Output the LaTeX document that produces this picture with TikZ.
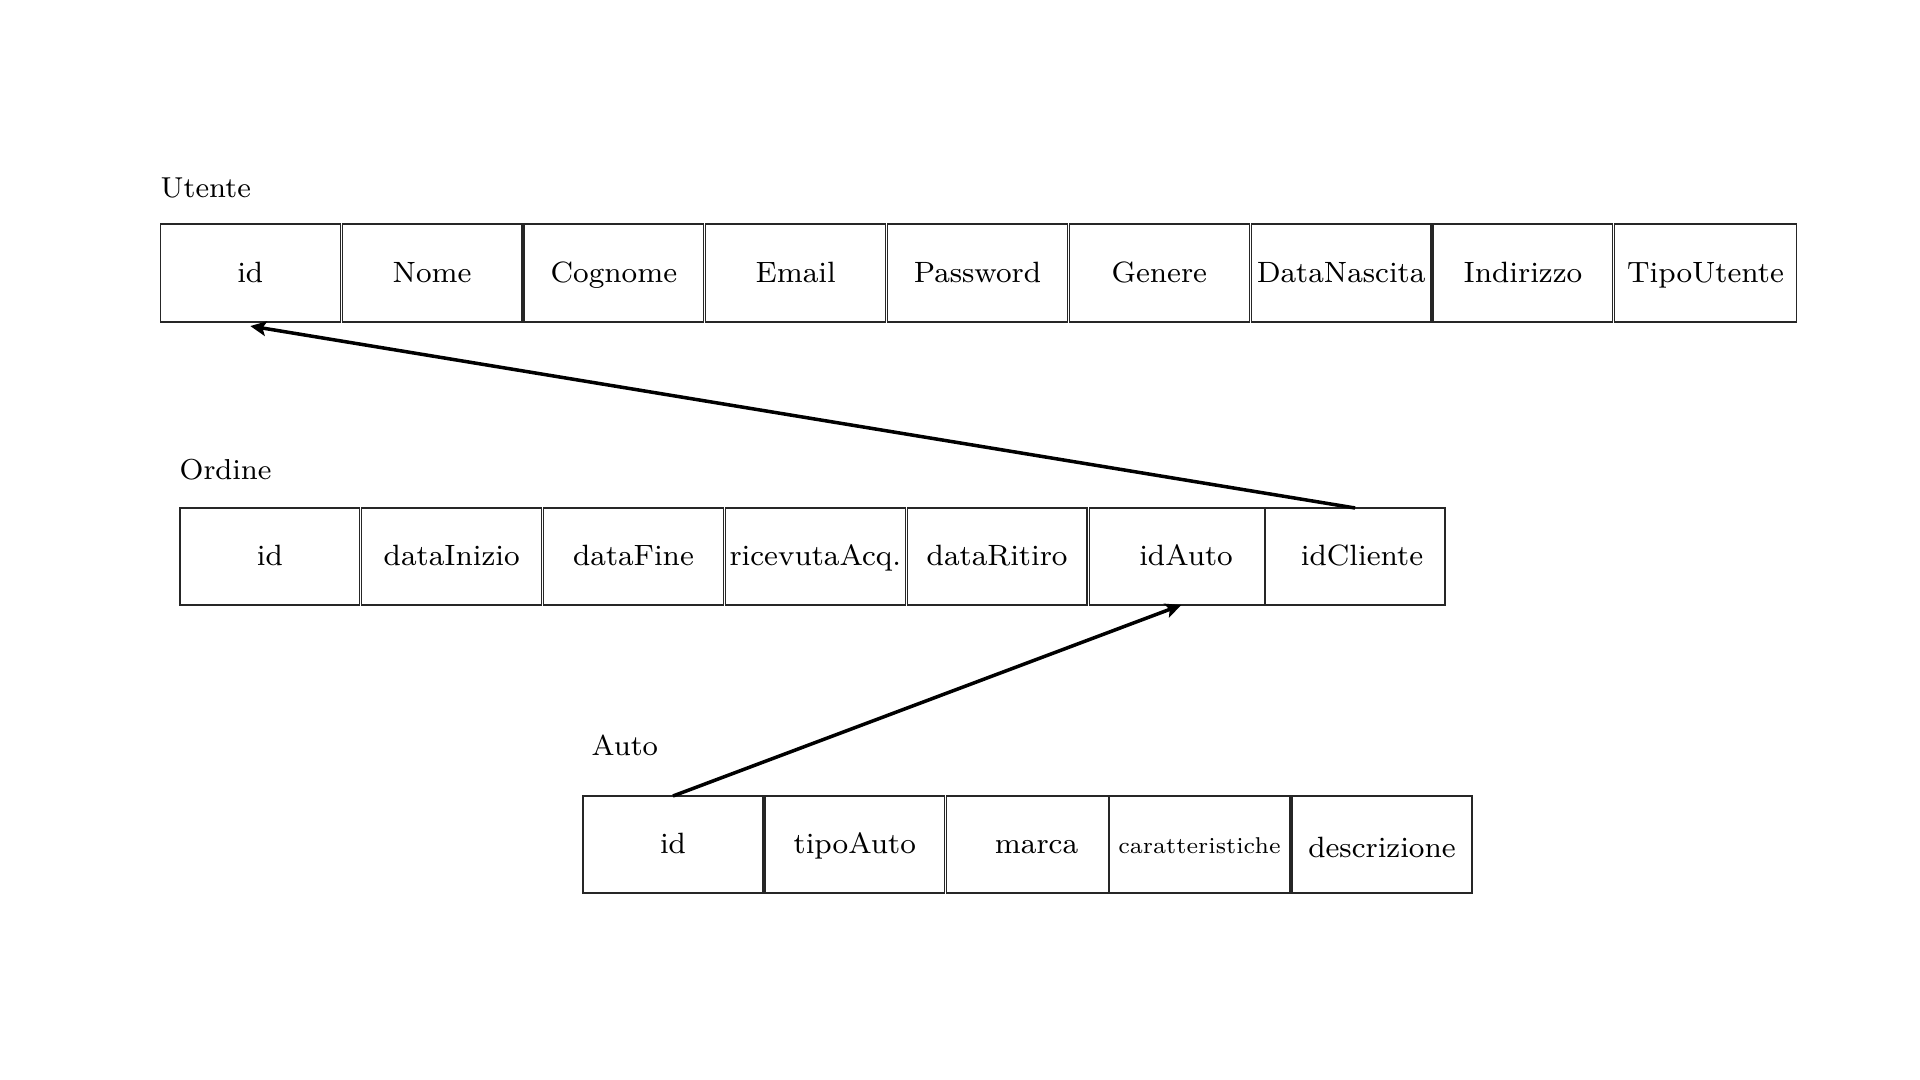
\documentclass[tikz,border=0pt]{standalone}
\usetikzlibrary{arrows.meta}
\begin{document}
\begin{tikzpicture}[x=0.01cm,y=-0.01cm,
  cell/.style={draw=black!85, line width=0.35pt, rectangle, anchor=north west,
    inner sep=0pt, outer sep=0pt, minimum height=0.98cm, text height=0.62em, text depth=0.1em,
    font=\fontsize{8.35}{10}\selectfont},
  w/.style={minimum width=#1*0.01cm},
  title/.style={anchor=west, inner sep=0pt, font=\fontsize{8.2}{10}\selectfont},
  fk/.style={line width=1pt, -{Stealth[length=4.5pt,width=4.2pt,inset=1pt]}}]
\useasboundingbox (0,0) rectangle (1920,1080);
% Utente
\node[title] (tu) at (160,188) {Utente};
\node[cell,w=179.8] (u1) at (160.4,224) {id};
\node[cell,w=179.8] (u2) at (342.2,224) {Nome};
\node[cell,w=179.8] (u3) at (524.0,224) {Cognome};
\node[cell,w=179.8] (u4) at (705.8,224) {Email};
\node[cell,w=179.8] (u5) at (887.6,224) {Password};
\node[cell,w=179.8] (u6) at (1069.4,224) {Genere};
\node[cell,w=179.8] (u7) at (1251.2,224) {DataNascita};
\node[cell,w=179.8] (u8) at (1433.0,224) {Indirizzo};
\node[cell,w=181.4] (u9) at (1614.8,224) {TipoUtente};
% Ordine
\node[title] (to) at (179,470) {Ordine};
\node[cell,w=179.8,minimum height=0.97cm] (o1) at (180.0,508) {id};
\node[cell,w=179.8,minimum height=0.97cm] (o2) at (361.8,508) {dataInizio};
\node[cell,w=179.8,minimum height=0.97cm] (o3) at (543.6,508) {dataFine};
\node[cell,w=179.8,minimum height=0.97cm] (o4) at (725.4,508) {ricevutaAcq.};
\node[cell,w=179.8,minimum height=0.97cm] (o5) at (907.2,508) {dataRitiro};
\node[cell,w=175.5,minimum height=0.97cm] (o6) at (1089.5,508) {\hspace*{5pt}idAuto};
\node[cell,w=180.0,minimum height=0.97cm] (o7) at (1265.0,508) {\hspace*{4pt}idCliente};
% Auto
\node[title] (ta) at (591,745) {Auto};
\node[cell,w=180.0,minimum height=0.97cm] (a1) at (583.0,796) {id};
\node[cell,w=179.5,minimum height=0.97cm] (a2) at (765.0,796) {tipoAuto};
\node[cell,w=162.5,minimum height=0.97cm] (a3) at (946.5,796) {\hspace*{5pt}marca};
\node[cell,w=181.0,minimum height=0.97cm,font=\fontsize{6.5}{8}\selectfont] (a4) at (1109.0,796) {caratteristiche};
\node[cell,w=180.0,minimum height=0.97cm] (a5) at (1292.0,796) {\raisebox{-1.1pt}{descrizione}};
% foreign keys
\draw[fk] (o7.north) -- ([yshift=-0.04cm]u1.south);
\draw[fk] (a1.north) -- ([xshift=0.04cm]o6.south);
\end{tikzpicture}
\end{document}
